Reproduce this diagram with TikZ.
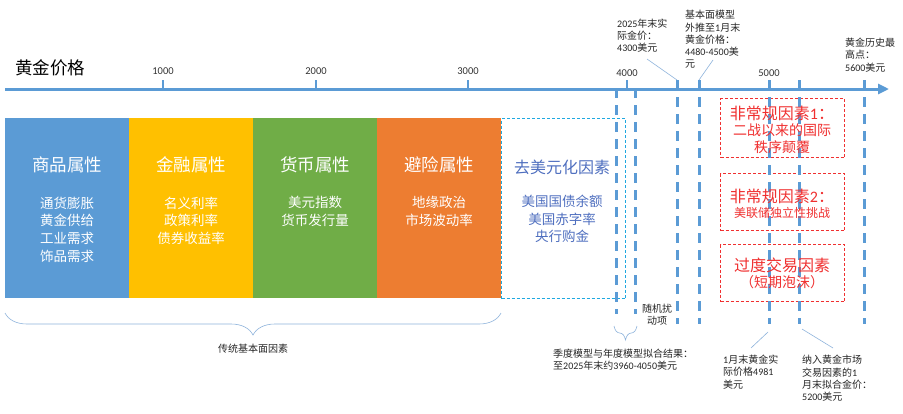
\documentclass[tikz,border=0pt]{standalone}
\usepackage{fontspec}
\setmainfont{Noto Sans CJK SC}
\newfontfamily\carl{Carlito}
\usetikzlibrary{decorations.pathreplacing,arrows.meta}
\definecolor{axblue}{HTML}{5B9BD5}
\definecolor{cblue}{HTML}{5B9BD5}
\definecolor{cyellow}{HTML}{FFC000}
\definecolor{cgreen}{HTML}{70AD47}
\definecolor{corange}{HTML}{ED7D31}
\definecolor{ccyan}{HTML}{1FA8E0}
\definecolor{dedol}{HTML}{4F6FBF}
\definecolor{redc}{HTML}{F03030}
\definecolor{leadblue}{HTML}{8FB4DC}
\newcommand\nm[1]{{\carl #1}}
\tikzset{
  catbox/.style={minimum width=124pt, minimum height=180pt, inner sep=0pt, draw=none, anchor=north west},
  cattitle/.style={text=white, font=\fontsize{17.5}{20}\selectfont, inner sep=0pt},
  catitems/.style={text=white, font=\fontsize{13.5}{17.6}\selectfont, align=center, inner sep=0pt},
  vdash/.style={draw=axblue, line width=3pt, dash pattern=on 10pt off 7pt},
  tickmark/.style={draw=axblue, line width=2.5pt},
  ticklabel/.style={font=\carl\fontsize{10.5}{12}\selectfont, text=black!80, inner sep=0pt},
  note/.style={font=\fontsize{10}{12.3}\selectfont, align=left, inner sep=0pt, anchor=west, text=black!85},
  leader/.style={draw=leadblue, line width=0.6pt},
  redbox/.style={draw=redc, line width=1.1pt, dash pattern=on 3pt off 2pt, minimum width=124pt, inner sep=0pt, anchor=north west},
  redtitle/.style={text=redc, font=\fontsize{16}{18}\selectfont, inner sep=0pt},
  redsub/.style={text=redc, font=\fontsize{14}{17}\selectfont, align=center, inner sep=0pt},
  bracestyle/.style={draw=leadblue, line width=0.6pt, decorate, decoration={brace, mirror}}
}
\begin{document}
\begin{tikzpicture}[x=1pt,y=-1pt]
\fill[white] (0,0) rectangle (903,413);
\useasboundingbox (0,0) rectangle (903,413);

% title
\node[font=\fontsize{17.5}{20}\selectfont, inner sep=0pt, anchor=west] (title) at (15,68) {黄金价格};

% category boxes
\node[catbox, fill=cblue] (b1) at (5,118) {};
\node[catbox, fill=cyellow] (b2) at (129,118) {};
\node[catbox, fill=cgreen] (b3) at (253,118) {};
\node[catbox, fill=corange] (b4) at (377,118) {};
\node[catbox, draw=ccyan, line width=1.1pt, dash pattern=on 3pt off 2pt, fill=none] (b5) at (501,118) {};

\node[cattitle] (t1) at (67,165) {商品属性};
\node[catitems] (i1) at (67,229.5) {通货膨胀\\黄金供给\\工业需求\\饰品需求};
\node[cattitle] (t2) at (191,165) {金融属性};
\node[catitems] (i2) at (191,220.5) {名义利率\\政策利率\\债券收益率};
\node[cattitle] (t3) at (315,165) {货币属性};
\node[catitems] (i3) at (315,211.5) {美元指数\\货币发行量};
\node[cattitle] (t4) at (439,165) {避险属性};
\node[catitems] (i4) at (439,211.5) {地缘政治\\市场波动率};
\node[cattitle, text=dedol, font=\fontsize{16}{18}\selectfont] (t5) at (562,167) {去美元化因素};
\node[catitems, text=dedol] (i5) at (562,219) {美国国债余额\\美国赤字率\\央行购金};

% red boxes
\node[redbox, minimum height=59pt] (r1) at (720,98) {};
\node[redbox, minimum height=57pt] (r2) at (720,173) {};
\node[redbox, minimum height=57pt] (r3) at (720,244) {};

% vertical dashed lines
\coordinate (d1a) at (616,88);  \coordinate (d1b) at (616,314);
\coordinate (d2a) at (635,88);  \coordinate (d2b) at (635,314);
\coordinate (d3a) at (677,80);  \coordinate (d3b) at (677,324);
\coordinate (d4a) at (699,80);  \coordinate (d4b) at (699,324);
\coordinate (d5a) at (769,80);  \coordinate (d5b) at (769,324);
\coordinate (d6a) at (799,80);  \coordinate (d6b) at (799,324);
\coordinate (d7a) at (864,80);  \coordinate (d7b) at (864,324);
\foreach \i in {1,...,7} { \draw[vdash] (d\i a) -- (d\i b); }

% red box texts
\node[redtitle] (r1t) at (782,113) {非常规因素\nm{1}：};
\node[redsub] (r1s) at (782,138.5) {二战以来的国际\\秩序颠覆};
\node[redtitle] (r2t) at (782,196) {非常规因素\nm{2}：};
\node[redsub, font=\fontsize{12}{14}\selectfont] (r2s) at (782,213) {美联储独立性挑战};
\node[redtitle] (r3t) at (782,265) {过度交易因素};
\node[redsub] (r3s) at (782,282) {（短期泡沫）};

% axis
\coordinate (axs) at (5,89);
\coordinate (axe) at (889,89);
\draw[draw=axblue, line width=3pt, -{Triangle[length=11pt,width=10pt]}] (axs) -- (axe);

% ticks
\foreach \x in {163, 316, 468, 627} {
  \draw[tickmark] (\x,80) -- (\x,89);
}
\node[ticklabel] (l1000) at (163,71) {1000};
\node[ticklabel] (l2000) at (316,71) {2000};
\node[ticklabel] (l3000) at (468,71) {3000};
\node[ticklabel] (l4000) at (627,73) {4000};
\node[ticklabel] (l5000) at (769,73) {5000};

% top annotations
\node[note] (a1) at (617,35.5) {\nm{2025}年末实\\际金价：\\\nm{4300}美元};
\node[note] (a2) at (685,39.5) {基本面模型\\外推至\nm{1}月末\\黄金价格：\\\nm{4480-4500}美\\元};
\node[note] (a3) at (845,55) {黄金历史最\\高点：\\\nm{5600}美元};
\coordinate (a1e) at (647,59);
\coordinate (a2e) at (713,60);
\draw[leader] (a1e) -- (d3a);
\draw[leader] (a2e) -- (d4a);

% big brace
\coordinate (bra) at (5,313);
\coordinate (brb) at (501,313);
\draw[bracestyle, decoration={amplitude=22pt}] (bra) -- (brb);
\node[font=\fontsize{10}{12}\selectfont, inner sep=0pt, text=black!85] (trad) at (253,349) {传统基本面因素};

% small brace
\coordinate (sba) at (614,326);
\coordinate (sbb) at (637,326);
\draw[bracestyle, decoration={amplitude=14pt}] (sba) -- (sbb);
\node[note] (fit) at (553,360) {季度模型与年度模型拟合结果：\\至\nm{2025}年末约\nm{3960-4050}美元};

\node[note, align=center, anchor=center] (rand) at (657,315) {随机扰\\动项};

% bottom annotations
\node[note] (a4) at (723,372) {\nm{1}月末黄金实\\际价格\nm{4981}\\美元};
\node[note] (a5) at (802,378.5) {纳入黄金市场\\交易因素的\nm{1}\\月末拟合金价：\\\nm{5200}美元};
\coordinate (a4s) at (768,332);
\coordinate (a4e) at (751,348);
\coordinate (a5s) at (802,329);
\coordinate (a5e) at (833,348);
\draw[leader] (a4s) -- (a4e);
\draw[leader] (a5s) -- (a5e);
\end{tikzpicture}
\end{document}
